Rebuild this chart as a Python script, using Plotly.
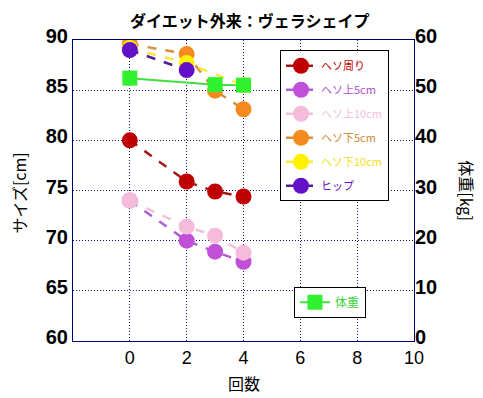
import plotly.graph_objects as go

x_sessions = [0, 2, 3, 4]
heso = [80.0, 75.9, 74.9, 74.4]
heso_up5 = [74.0, 70.0, 68.9, 67.9]
heso_up10 = [74.0, 71.4, 70.5, 68.8]
heso_dn5 = [89.6, 88.6, 84.95, 83.1]
heso_dn10 = [89.2, 87.7, None, 85.5]
hip = [89.0, 87.0, None, None]
weight = [52.4, None, 51.1, 51.0]

series_names = ["ヘソ周り", "ヘソ上5cm", "ヘソ上10cm", "ヘソ下5cm", "ヘソ下10cm", "ヒップ"]
series_vals = [heso, heso_up5, heso_up10, heso_dn5, heso_dn10, hip]
marker_colors = ["#C00000", "#C050D8", "#F4BCDA", "#F58A1F", "#FFF200", "#6410C8"]
line_colors = ["#A01818", "#B060D0", "#F0C0DC", "#D89040", "#F8E840", "#502090"]
text_colors = ["#C00000", "#B050D0", "#F0C0DC", "#D08A30", "#F0E020", "#6410C8"]

fig = go.Figure()
for i, (nm, vals) in enumerate(zip(series_names, series_vals)):
    fig.add_trace(go.Scatter(
        x=x_sessions, y=vals, mode="lines+markers",
        name=f"<span style='color:{text_colors[i]}'>{nm}</span>",
        legendgroup=f"g{i}",
        connectgaps=True,
        line=dict(color=line_colors[i], width=2.5, dash="dash"),
        marker=dict(color=marker_colors[i], size=16, symbol="circle"),
    ))

fig.add_trace(go.Scatter(
    x=x_sessions, y=weight, mode="lines+markers", yaxis="y2",
    name="<span style='color:#40D040'>体重</span>", legend="legend2",
    connectgaps=True,
    line=dict(color="#40E040", width=2),
    marker=dict(color="#30F030", size=15, symbol="square"),
))

axis_col = "#000070"
grid_col = "#101070"
fig.update_layout(
    width=475, height=390,
    margin=dict(l=65, r=69, t=32, b=57),
    paper_bgcolor="white", plot_bgcolor="white",
    font=dict(family="Noto Sans CJK JP", color="black"),
    showlegend=True,
    xaxis=dict(range=[-2, 10], tickvals=[0, 2, 4, 6, 8, 10],
               showgrid=True, gridcolor=grid_col, griddash="1px,2px", gridwidth=1,
               showline=True, linecolor=axis_col, linewidth=1, mirror=True,
               zeroline=False, ticks="", tickfont=dict(family="Liberation Sans", size=18, color="black"),
               ticklabelstandoff=0),
    yaxis=dict(range=[60, 90], dtick=5,
               showgrid=True, gridcolor=grid_col, griddash="1px,2px", gridwidth=1,
               showline=True, linecolor=axis_col, linewidth=1, mirror=True,
               zeroline=False, ticks="", ticklabelshift=-4,
               tickfont=dict(family="Liberation Sans", size=20, color="black", weight="bold")),
    yaxis2=dict(range=[0, 60], dtick=10, overlaying="y", side="right",
                showgrid=False, showline=False, zeroline=False, ticks="", ticklabelshift=-4,
                tickfont=dict(family="Liberation Sans", size=20, color="black", weight="bold")),
    legend=dict(x=0.607, y=0.966, xanchor="left", yanchor="top",
                bgcolor="white", bordercolor="black", borderwidth=1,
                tracegroupgap=5, traceorder="grouped",
                font=dict(family="Noto Sans CJK JP", size=11)),
    legend2=dict(x=0.648, y=0.18, xanchor="left", yanchor="top",
                 bgcolor="white", bordercolor="black", borderwidth=1,
                 font=dict(family="Noto Sans CJK JP", size=12)),
    annotations=[
        dict(text="ダイエット外来：ヴェラシェイプ", x=0.518, y=1.067, xref="paper", yref="paper",
             showarrow=False, font=dict(size=16, color="black", weight="bold"),
             yanchor="middle"),
        dict(text="回数", x=0.5, y=-0.139, xref="paper", yref="paper", showarrow=False,
             font=dict(size=16, color="black"), yanchor="middle"),
        dict(text="サイズ[cm]", x=-0.161, y=0.49, xref="paper", yref="paper", showarrow=False,
             textangle=-90, font=dict(size=16, color="black"), xanchor="center"),
        dict(text="体重[kg]", x=1.156, y=0.5, xref="paper", yref="paper", showarrow=False,
             textangle=90, font=dict(size=16, color="black"), xanchor="center"),
    ],
)

fig.write_html("out.html")
